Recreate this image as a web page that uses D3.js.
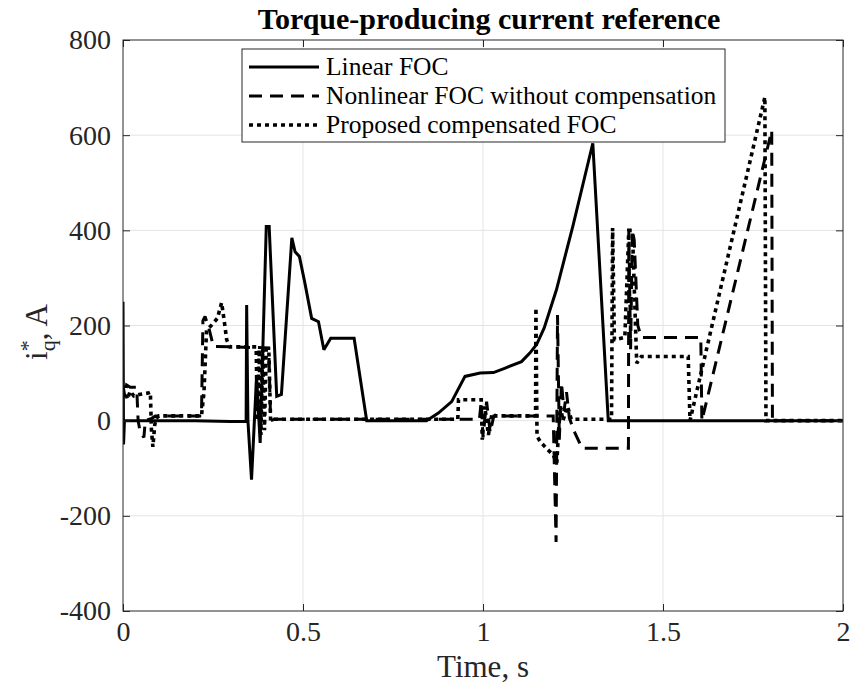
<!DOCTYPE html>
<html>
<head>
<meta charset="utf-8">
<script src="https://cdn.jsdelivr.net/npm/d3@7"></script>
<style>
  html, body { margin: 0; padding: 0; background: #fff; }
  svg { display: block; font-family: "Liberation Serif", "Times New Roman", serif; }
</style>
</head>
<body>
<svg id="chart" width="853" height="687"></svg>
<script>
// ---------- data ----------
const xTicks = [0, 0.5, 1, 1.5, 2];
const xTickLabels = ["0", "0.5", "1", "1.5", "2"];
const yTicks = [-400, -200, 0, 200, 400, 600, 800];
const yTickLabels = ["-400", "-200", "0", "200", "400", "600", "800"];

const seriesNames = ["Linear FOC", "Nonlinear FOC without compensation", "Proposed compensated FOC"];

// Linear FOC (solid)
const linearT = [0, 0.0015, 0.004, 0.2, 0.3, 0.342, 0.3435, 0.347, 0.357, 0.371, 0.381, 0.398, 0.406, 0.427, 0.44,
  0.469, 0.478, 0.49, 0.505, 0.524, 0.543, 0.558, 0.577, 0.642, 0.677, 0.843, 0.876, 0.913, 0.95, 0.992, 1.029,
  1.06, 1.107, 1.13, 1.149, 1.17, 1.204, 1.25, 1.305, 1.348, 2];
const linearV = [250, -50, 0, 0, -2, -2, 243, 0, -124, 93, -47, 408, 408, 51, 55,
  384, 355, 345, 290, 215, 208, 149, 173, 173, 0, 0, 16, 40, 93, 100, 101,
  110, 124, 142, 160, 195, 275, 410, 583, 0, 0];

// Nonlinear FOC without compensation (dashed)
const nonlinT = [0, 0.005, 0.01, 0.02, 0.038, 0.042, 0.048, 0.058, 0.062, 0.08, 0.09, 0.218, 0.222, 0.228, 0.24,
  0.251, 0.405, 0.41, 0.42, 0.99, 0.995, 1.0, 1.01, 1.02, 1.03, 1.195, 1.203, 1.207, 1.212, 1.218, 1.225, 1.232,
  1.24, 1.255, 1.275, 1.404, 1.405, 1.41, 1.415, 1.42, 1.43, 1.44, 1.605, 1.608, 1.802, 1.804, 2];
const nonlinV = [75, 50, 75, 70, 70, 0, -25, -35, 0, 5, 10, 10, 210, 219, 190,
  156, 153, 0, 3, 3, 40, -35, 40, -25, 10, 10, -255, 222, -40, 80, 20, 60,
  5, -25, -58, -58, 400, 150, 400, 380, 200, 175, 175, 0, 610, 0, 0];

// Proposed compensated FOC (dotted)
const propT = [0, 0.008, 0.012, 0.02, 0.03, 0.045, 0.07, 0.076, 0.079, 0.083, 0.088, 0.092, 0.1, 0.218, 0.225,
  0.232, 0.245, 0.262, 0.274, 0.282, 0.288, 0.297, 0.37, 0.373, 0.378, 0.383, 0.388, 0.393, 0.398, 0.405, 0.41,
  0.42, 0.93, 0.932, 0.995, 0.998, 1.005, 1.015, 1.025, 1.035, 1.146, 1.147, 1.15, 1.16, 1.18, 1.195, 1.205,
  1.21, 1.215, 1.222, 1.235, 1.245, 1.357, 1.36, 1.365, 1.394, 1.405, 1.415, 1.427, 1.44, 1.57, 1.575, 1.783,
  1.786, 2];
const propV = [50, 60, 45, 62, 52, 55, 58, 60, -20, -55, -10, 5, 10, 10, 60,
  190, 200, 215, 248, 205, 170, 155, 155, 0, 150, -30, 150, -20, 150, 150, 0,
  3, 3, 44, 44, -40, 30, -30, 15, 10, 10, 237, -33, -45, -61, -72, -89,
  -20, 30, 0, 30, 3, 3, 405, 170, 175, 400, 400, 121, 135, 135, 0, 680,
  0, 0];

// ---------- layout ----------
const svg = d3.select("#chart");
const L = 123, R = 843, T = 40, B = 611;
const x = d3.scaleLinear().domain([0, 2]).range([L, R]);
const y = d3.scaleLinear().domain([-400, 800]).range([B, T]);
const FONT = '"Liberation Serif", "Times New Roman", serif';

svg.append("rect").attr("width", 853).attr("height", 687).attr("fill", "#fff");
svg.append("rect").attr("x", L).attr("y", T).attr("width", R - L).attr("height", B - T).attr("fill", "#fff");

// grid
const grid = svg.append("g").attr("stroke", "#e3e3e3").attr("stroke-width", 1);
xTicks.slice(1, -1).forEach(t => grid.append("line").attr("x1", x(t)).attr("x2", x(t)).attr("y1", T).attr("y2", B));
yTicks.slice(1, -1).forEach(t => grid.append("line").attr("x1", L).attr("x2", R).attr("y1", y(t)).attr("y2", y(t)));

// clip
svg.append("clipPath").attr("id", "clip").append("rect")
  .attr("x", L).attr("y", T).attr("width", R - L).attr("height", B - T);

const line = d3.line().x(d => x(d[0])).y(d => y(d[1]));
const styles = [
  { dash: null, w: 3 },
  { dash: "13,8", w: 3 },
  { dash: "4,4", w: 3.6 }
];
const data = [
  d3.zip(linearT, linearV),
  d3.zip(nonlinT, nonlinV),
  d3.zip(propT, propV)
];
const plot = svg.append("g").attr("clip-path", "url(#clip)");
[2, 1, 0].forEach(i => {
  plot.append("path").datum(data[i]).attr("d", line)
    .attr("fill", "none").attr("stroke", "#000").attr("stroke-width", styles[i].w)
    .attr("stroke-linejoin", "miter").attr("stroke-miterlimit", 2)
    .attr("stroke-dasharray", styles[i].dash);
});

// axes
const axB = d3.axisBottom(x).tickValues(xTicks).tickFormat((d, i) => xTickLabels[i]).tickSize(-7).tickPadding(10);
const axL = d3.axisLeft(y).tickValues(yTicks).tickFormat((d, i) => yTickLabels[i]).tickSize(-7).tickPadding(12);
const axT = d3.axisTop(x).tickValues(xTicks).tickFormat("").tickSize(-7);
const axR = d3.axisRight(y).tickValues(yTicks).tickFormat("").tickSize(-7);

function styleAxis(g) {
  g.select(".domain").remove();
  g.selectAll(".tick line").attr("stroke", "#262626").attr("stroke-width", 1);
  g.selectAll("text").attr("fill", "#262626").style("font-family", FONT).style("font-size", "28px");
}
svg.append("g").attr("transform", `translate(0,${B})`).call(axB).call(styleAxis)
  .selectAll("text").attr("dy", "0.71em");
svg.append("g").attr("transform", `translate(${L},0)`).call(axL).call(styleAxis);
svg.append("g").attr("transform", `translate(0,${T})`).call(axT).call(styleAxis);
svg.append("g").attr("transform", `translate(${R},0)`).call(axR).call(styleAxis);

svg.append("rect").attr("x", L).attr("y", T).attr("width", R - L).attr("height", B - T)
  .attr("fill", "none").attr("stroke", "#262626").attr("stroke-width", 1);

// title
svg.append("text").attr("x", 489).attr("y", 29).attr("text-anchor", "middle")
  .style("font-family", FONT).style("font-size", "30px").style("font-weight", "bold")
  .attr("fill", "#000").text("Torque-producing current reference");

// x label
svg.append("text").attr("x", 483).attr("y", 677).attr("text-anchor", "middle")
  .style("font-family", FONT).style("font-size", "31px").attr("fill", "#262626").text("Time, s");

// y label
const yl = svg.append("text").attr("transform", "translate(47,332) rotate(-90)")
  .attr("text-anchor", "middle").style("font-family", FONT).style("font-size", "31px").attr("fill", "#262626");
yl.append("tspan").text("i");
yl.append("tspan").attr("dy", -12).style("font-size", "22px").text("*");
yl.append("tspan").attr("dx", -11).attr("dy", 20).style("font-size", "22px").text("q");
yl.append("tspan").attr("dy", -8).text(", A");

// legend
const lg = svg.append("g");
lg.append("rect").attr("x", 242).attr("y", 49).attr("width", 483).attr("height", 93)
  .attr("fill", "#fff").attr("stroke", "#262626").attr("stroke-width", 1);
const rowY = [67, 96, 125];
seriesNames.forEach((name, i) => {
  lg.append("line").attr("x1", 249).attr("x2", 319).attr("y1", rowY[i]).attr("y2", rowY[i])
    .attr("stroke", "#000").attr("stroke-width", styles[i].w).attr("stroke-dasharray", styles[i].dash);
  lg.append("text").attr("x", 326).attr("y", rowY[i]).attr("dy", "0.33em")
    .style("font-family", FONT).style("font-size", "25.5px").attr("fill", "#000").text(name);
});
</script>
</body>
</html>
